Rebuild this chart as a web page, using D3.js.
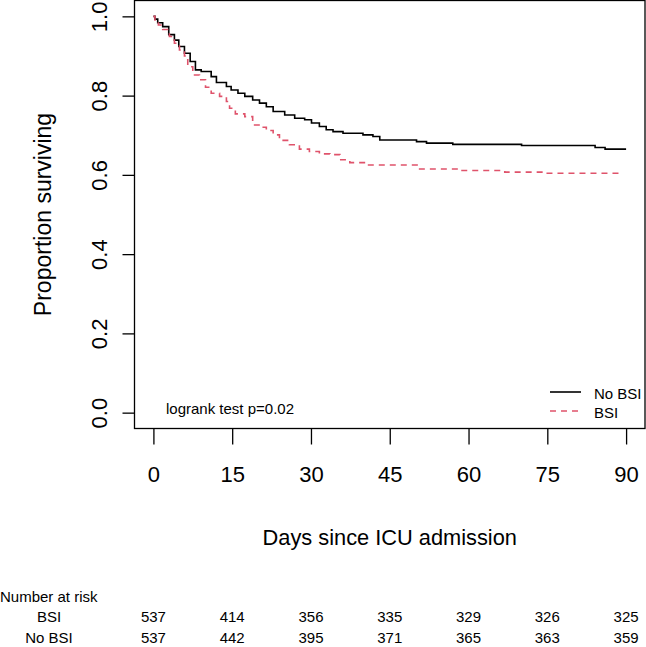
<!DOCTYPE html>
<html>
<head>
<meta charset="utf-8">
<script src="https://cdn.jsdelivr.net/npm/d3@7"></script>
<style>
  html, body { margin: 0; padding: 0; background: #fff; }
  svg { display: block; font-family: "Liberation Sans", Arial, Helvetica, sans-serif; }
</style>
</head>
<body>
<svg id="chart" width="646" height="647"></svg>
<script>
// ---- data ----
const groups = ["No BSI", "BSI"];
const noBsiDays = [0, 0.3, 0.82, 1.77, 2.92, 4.0, 4.83, 5.91, 7.0, 8.0, 9.1, 11.0, 12.0, 13.9, 14.8, 16.1, 17.4, 18.9, 20.2, 21.5, 22.8, 25.0, 26.9, 28.8, 30.1, 31.6, 32.9, 34.2, 36.1, 39.9, 41.8, 43.1, 50.1, 52.0, 57.0, 70.1, 84.1, 86.0, 90];
const noBsiSurv = [1.0, 0.993, 0.984, 0.974, 0.954, 0.940, 0.924, 0.907, 0.886, 0.865, 0.861, 0.848, 0.833, 0.823, 0.814, 0.806, 0.798, 0.789, 0.781, 0.772, 0.760, 0.751, 0.743, 0.739, 0.731, 0.722, 0.714, 0.709, 0.705, 0.701, 0.697, 0.688, 0.684, 0.680, 0.677, 0.674, 0.669, 0.665, 0.665];
const bsiDays = [0, 0.3, 0.95, 1.77, 3.05, 4.0, 4.96, 5.91, 6.54, 7.5, 8.77, 9.92, 11.0, 12.6, 13.9, 14.5, 15.6, 17.4, 18.9, 20.5, 21.5, 22.8, 24.0, 25.9, 27.8, 29.7, 31.6, 33.6, 35.5, 37.4, 40.8, 50.2, 58.4, 66.9, 74.6, 89];
const bsiSurv = [1.0, 0.988, 0.978, 0.967, 0.949, 0.932, 0.915, 0.900, 0.873, 0.852, 0.840, 0.821, 0.806, 0.798, 0.785, 0.768, 0.754, 0.747, 0.726, 0.720, 0.712, 0.701, 0.687, 0.676, 0.665, 0.659, 0.653, 0.651, 0.638, 0.631, 0.625, 0.615, 0.611, 0.607, 0.604, 0.604];
const xTicks = [0, 15, 30, 45, 60, 75, 90];
const yTicks = [0.0, 0.2, 0.4, 0.6, 0.8, 1.0];
const riskBSI = [537, 414, 356, 335, 329, 326, 325];
const riskNoBSI = [537, 442, 395, 371, 365, 363, 359];
const pText = "logrank test p=0.02";

// ---- layout ----
const svg = d3.select("#chart");
const mLeft = 134.5, mRight = 645, mTop = 0.5, mBottom = 428.5;
const x = d3.scaleLinear().domain([-3.6, 93.6]).range([mLeft, mRight]);
const y = d3.scaleLinear().domain([-0.04, 1.04]).range([mBottom, mTop]);

// box
svg.append("rect").attr("x", mLeft).attr("y", mTop)
  .attr("width", mRight - mLeft).attr("height", mBottom - mTop)
  .attr("fill", "none").attr("stroke", "#000").attr("stroke-width", 1.3);

// x axis
const xAxis = d3.axisBottom(x).tickValues(xTicks).tickSize(16).tickPadding(22)
  .tickFormat(d3.format("d"));
const gx = svg.append("g").attr("transform", `translate(0,${mBottom})`).call(xAxis);
gx.select(".domain").remove();
gx.selectAll(".tick line").attr("stroke", "#000").attr("stroke-width", 1.3);
gx.selectAll(".tick text").attr("font-size", 22).attr("fill", "#000")
  .attr("font-family", "Liberation Sans, Arial, sans-serif");

// y axis
const yAxis = d3.axisLeft(y).tickValues(yTicks).tickSize(12).tickPadding(0)
  .tickFormat(d3.format(".1f"));
const gy = svg.append("g").attr("transform", `translate(${mLeft},0)`).call(yAxis);
gy.select(".domain").remove();
gy.selectAll(".tick line").attr("stroke", "#000").attr("stroke-width", 1.3);
gy.selectAll(".tick text")
  .attr("font-size", 22).attr("fill", "#000")
  .attr("font-family", "Liberation Sans, Arial, sans-serif")
  .attr("x", null)
  .attr("text-anchor", "middle")
  .attr("transform", "translate(-35,0) rotate(-90)")
  .attr("dy", "0.35em");

// axis titles
svg.append("text").attr("x", (x(0) + x(90)) / 2).attr("y", 545)
  .attr("text-anchor", "middle").attr("font-size", 21.8)
  .text("Days since ICU admission");
svg.append("text").attr("transform", `translate(51,${(y(0) + y(1)) / 2}) rotate(-90)`)
  .attr("text-anchor", "middle").attr("font-size", 23)
  .text("Proportion surviving");

// curves
const line = d3.line().x(d => x(d[0])).y(d => y(d[1])).curve(d3.curveStepAfter);
const noBsi = noBsiDays.map((d, i) => [d, noBsiSurv[i]]);
const bsi = bsiDays.map((d, i) => [d, bsiSurv[i]]);
svg.append("path").datum(noBsi).attr("d", line)
  .attr("fill", "none").attr("stroke", "#000").attr("stroke-width", 1.6);
svg.append("path").datum(bsi).attr("d", line)
  .attr("fill", "none").attr("stroke", "#DF536B").attr("stroke-width", 1.6)
  .attr("stroke-dasharray", "6,5");

// legend
const legend = [
  { label: groups[0], color: "#000", dash: null, yy: 392 },
  { label: groups[1], color: "#DF536B", dash: "6,5", yy: 411 }
];
legend.forEach(l => {
  svg.append("line").attr("x1", 550).attr("x2", 581).attr("y1", l.yy).attr("y2", l.yy)
    .attr("stroke", l.color).attr("stroke-width", 1.6).attr("stroke-dasharray", l.dash);
  svg.append("text").attr("x", 594).attr("y", l.yy + 6.5).attr("font-size", 15).text(l.label);
});

// p value
svg.append("text").attr("x", 166).attr("y", 414).attr("font-size", 15).text(pText);

// risk table
svg.append("text").attr("x", 0).attr("y", 602).attr("font-size", 15).text("Number at risk");
const rows = [
  { label: "BSI", vals: riskBSI, yy: 622 },
  { label: "No BSI", vals: riskNoBSI, yy: 643 }
];
rows.forEach(r => {
  svg.append("text").attr("x", 49).attr("y", r.yy).attr("text-anchor", "middle")
    .attr("font-size", 15).text(r.label);
  r.vals.forEach((v, i) => {
    svg.append("text").attr("x", x(xTicks[i])).attr("y", r.yy)
      .attr("text-anchor", "middle").attr("font-size", 15).text(v);
  });
});
</script>
</body>
</html>
